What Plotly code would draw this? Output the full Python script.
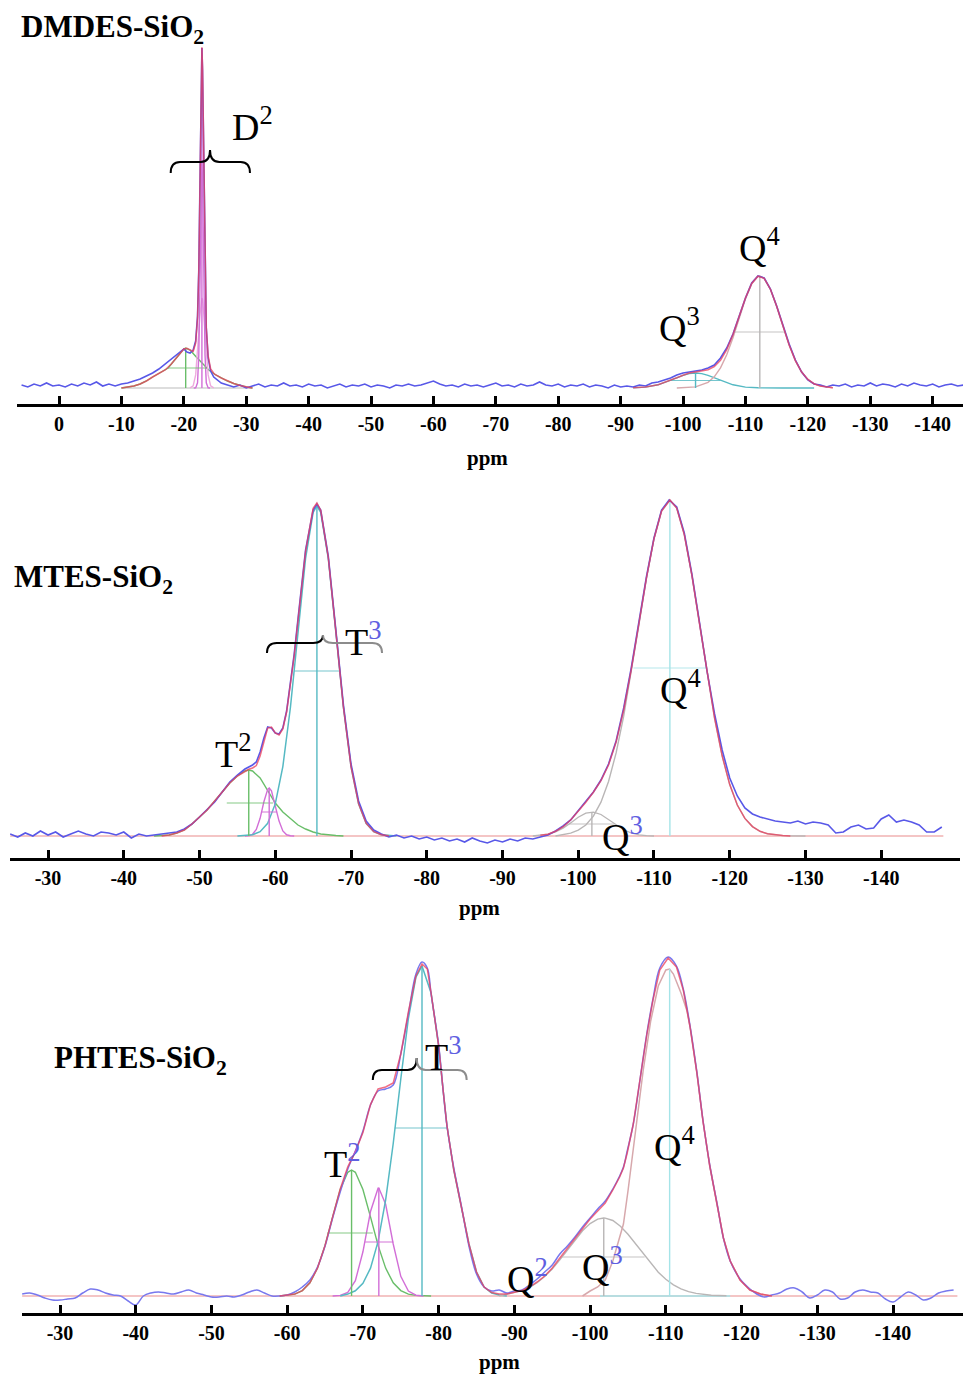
import plotly.graph_objects as go

# Page body margin of the browser shifts the figure by 8 px; layout below uses reference pixels.
OFF = 8
W, H = 971 - OFF, 1376 - OFF

# ================= DATA =================
# ---- Panel 1: DMDES-SiO2 (intensity in arbitrary units, baseline = 0) ----
dmdes_exp_ppm_a = [6, 5, 4, 3, 2, 1, 0, -1, -2, -3, -4, -5, -6, -7, -8, -9, -10, -11, -12, -13,
                   -14, -15, -16, -17, -18, -19, -19.5, -20, -20.5, -21, -21.5, -21.9, -22.2, -22.4,
                   -22.55, -22.7, -22.8, -22.9, -23.0, -23.1, -23.25, -23.4, -23.6, -23.9, -24.3,
                   -24.8, -25.5, -26, -27]
dmdes_exp_a = [3, 1, 4, 2, 5, 2, 3, 1, 4, 2, 5, 3, 6, 2, 4, 2, 4, 5, 7, 9,
               12, 15, 19, 24, 29, 34, 37, 39, 36, 35, 38, 47, 72, 118,
               186, 272, 320, 340, 318, 268, 180, 110, 60, 30, 17,
               11, 7, 5, 3]
dmdes_exp_ppm_b = list(range(-28, -94, -1))
dmdes_exp_b = [1, 3, 0, 2, 4, 1, 3, 2, 5, 2,
               3, 1, 4, 2, 3, 0, 2, 4, 1, 3,
               2, 4, 1, 3, 2, 0, 3, 2, 4, 2,
               3, 5, 7, 4, 2, 3, 1, 4, 2, 3,
               1, 3, 5, 2, 3, 1, 4, 2, 3, 6,
               3, 2, 4, 1, 3, 2, 4, 1, 3, 2,
               0, 3, 1, 2, 1, 3]
dmdes_exp_ppm_c = list(range(-94, -146, -1))
dmdes_exp_c = [2, 5, 6, 8, 10, 13, 15, 16, 17, 18,
               20, 23, 30, 40, 54, 72, 90, 105, 112, 110,
               99, 82, 62, 44, 28, 16, 8, 4, 3, 1,
               3, 2, 4, 1, 3, 2, 5, 2, 4, 3,
               1, 4, 2, 5, 3, 2, 4, 1, 3, 4,
               2, 3]

dmdes_fit_ppm = [-10, -11, -12, -13, -14, -15, -16, -17, -18, -19, -20, -20.5, -21, -21.5,
                 -21.9, -22.2, -22.4, -22.55, -22.7, -22.8, -22.9, -23.0, -23.1, -23.25, -23.4,
                 -23.6, -23.9, -24.3, -24.8, -25, -26, -27, -28, -29, -30, -31, None,
                 -92, -94, -96, -98, -99, -100, -101, -102, -103, -104, -105, -106, -107, -108,
                 -109, -110, -111, -112, -113, -114, -115, -116, -117, -118, -119, -120, -121,
                 -122, -124]
dmdes_fit = [0, 1, 2, 4, 7, 11, 14.5, 18, 24, 32, 39, 39.7, 38.1, 36.6,
             45, 69.8, 116.8, 186, 275.5, 323, 340.7, 321.6, 272.7, 181.2, 109.8,
             60.5, 32.2, 19.1, 14.8, 13.5, 10, 7, 4.5, 2.5, 1, 0, None,
             0.2, 0.9, 3.2, 7.5, 10.2, 12.8, 14.9, 16.1, 17.0, 18.3, 21.3, 27.6, 38.4, 53.5,
             71.8, 90.0, 104.5, 111.8, 109.6, 98.8, 81.7, 62.0, 43.0, 27.4, 16.0, 8.6, 4.2,
             1.9, 0.3]

dmdes_d_broad_ppm = [-10, -11, -12, -13, -14, -15, -16, -17, -17.5, -18, -19, -20, -20.3, -21, -22,
                     -23, -23.7, -24, -25, -26, -27, -28, -29, -30, -31]
dmdes_d_broad = [0, 1, 2, 4, 7, 11, 14.5, 18, 20, 24, 32, 39, 40, 38, 31,
                 24, 20, 18, 13.5, 10, 7, 4.5, 2.5, 1, 0]
dmdes_d_narrow_ppm = [-21.6, -21.9, -22.2, -22.4, -22.55, -22.7, -22.8, -22.9, -23.0, -23.1, -23.25,
                      -23.4, -23.6, -23.9, -24.2]
dmdes_d_narrow = [0, 0.1, 5.2, 33, 87.9, 166.1, 209.3, 226, 209.3, 166.1, 87.9, 33, 5.2, 0.1, 0]
dmdes_d_mid_ppm = [-21.0, -21.5, -21.9, -22.2, -22.4, -22.55, -22.7, -22.8, -22.9, -23.0, -23.1,
                   -23.25, -23.4, -23.6, -23.9, -24.3, -24.8]
dmdes_d_mid = [0.1, 2.1, 13.1, 35, 55.6, 71, 83.3, 88.3, 90, 88.3, 83.3, 71, 55.6, 35, 13.1, 2.1, 0.1]
dmdes_q3_ppm = [-92, -94, -96, -98, -99, -100, -101, -102, -103, -104, -105, -106, -108, -110, -112,
                -116, -121]
dmdes_q3 = [0.2, 0.9, 3.2, 7.5, 10.2, 12.6, 14.4, 15, 14.4, 12.6, 10.2, 7.5, 3.2, 0.9, 0.2, 0, 0]
dmdes_q4_ppm = [-99, -100, -102, -104, -105, -106, -107, -108, -109, -110, -111, -112, -112.3, -113,
                -114, -115, -116, -117, -118, -119, -120, -121, -122, -124]
dmdes_q4 = [0, 0.2, 1.1, 5.7, 11.1, 20.1, 33.2, 50.3, 69.9, 89.1, 104.1, 111.6, 112, 109.6,
            98.8, 81.7, 62, 43, 27.4, 16, 8.6, 4.2, 1.9, 0.3]
dmdes_base_ppm = [-10, -31]
dmdes_peak_ppm = [-20.3, -22.9, -102.0, -112.3]
dmdes_peak_h = [40, 340, 15, 112]
dmdes_half_y = [20, None, 7.5, 56]
dmdes_half_lo = [-17.5, None, -98.0, -108.3]
dmdes_half_hi = [-23.7, None, -106.0, -116.3]
dmdes_ticks = [0, -10, -20, -30, -40, -50, -60, -70, -80, -90, -100, -110, -120, -130, -140]
dmdes_ticktext = ["0", "-10", "-20", "-30", "-40", "-50", "-60", "-70", "-80", "-90", "-100",
                  "-110", "-120", "-130", "-140"]

# ---- Panel 2: MTES-SiO2 ----
mtes_exp_ppm_a = list(range(-25, -56, -1))
mtes_exp_a = [2, -1, 3, 0, 5, 1, 4, -1, 2, 5,
              2, 0, 4, 3, 1, 4, -2, 2, 0, 1,
              2, 3, 4, 7, 12, 19, 26, 34, 44, 54,
              61]
mtes_exp_ppm_b = [-56, -56.5, -57, -57.5, -58, -58.5, -59, -59.5, -60, -60.5, -61, -61.5, -62,
                  -62.5, -63, -64, -65, -65.5, -66]
mtes_exp_b = [67, 69, 71, 74, 84, 98, 109, 108, 103, 102, 108, 125, 152, 182, 217, 286, 326, 332, 326]
mtes_exp_ppm_c = list(range(-67, -149, -1))
mtes_exp_c = [280, 206, 131, 72, 35, 15, 6, 2, -1, 1,
              -2, 0, -3, -1, -4, -2, -5, -3, -6, -2,
              -5, -7, -4, -6, -3, -5, -2, -3, -1, 1,
              5, 10, 16, 25, 34, 44, 56, 72, 95, 128,
              168, 214, 259, 298, 326, 336, 329, 303, 262, 214,
              165, 122, 86, 58, 40, 28, 22, 19, 17, 15,
              14, 13, 15, 12, 14, 13, 11, 3, 4, 9,
              11, 7, 8, 17, 21, 14, 16, 14, 11, 4,
              4, 9]
mtes_fit_ppm = [-45, -46, -47, -48, -49, -50, -51, -52, -53, -54, -55, -56, -56.5, -57, -57.5, -58,
                -58.5, -59, -59.5, -60, -60.5, -61, -61.5, -62, -62.5, -63, -64, -65, -65.5, -66,
                -67, -68, -69, -70, -71, -72, -73, -74, -75, None,
                -95, -96, -97, -98, -99, -100, -101, -102, -103, -104, -105, -106, -107, -108,
                -109, -110, -111, -112.1, -113, -114, -115, -116, -117, -118, -119, -120, -121,
                -122, -123, -124, -125, -126, -127, -128]
mtes_fit = [0, 1, 3, 6, 12, 19, 26, 35, 44, 53, 60, 65, 66.7, 68, 70.4, 80,
            93.3, 108, 109, 103, 101, 107, 124, 150, 180, 215, 284.5, 327.7, 333, 325.7,
            278.5, 204.4, 128.5, 69.4, 32.1, 12.7, 4.3, 1.3, 0.3, None,
            0.7, 1.8, 4.7, 9.3, 16, 24.5, 33.8, 43.8, 55.3, 71, 94, 126, 166.4, 212,
            257.8, 297.3, 324.9, 336, 327.9, 301.4, 260.9, 212.6, 163.2, 117.9, 80.2, 51.4, 31,
            17.6, 9.4, 4.7, 2.2, 1.0, 0.4, 0.1]
mtes_t2_ppm = [-44, -45, -46, -47, -48, -49, -50, -51, -52, -53, -54, -55, -56, -56.5, -57, -58,
               -59, -60, -61, -62, -63, -64, -65, -66, -67, -68, -69]
mtes_t2 = [0, 0.5, 1, 3, 6, 12, 19, 26, 35, 44, 53, 60, 65, 66, 65, 58,
           45, 33, 24, 17, 11, 7, 4, 2, 1, 0.5, 0]
mtes_t2b_ppm = [-56, -56.6, -57, -57.5, -58, -58.5, -59, -59.2, -59.5, -60, -60.5, -61, -61.5, -62,
                -62.5]
mtes_t2b = [0, 0.4, 1.7, 6.5, 17.7, 34.2, 46.7, 48, 45.1, 30.8, 14.9, 5.1, 1.2, 0.2, 0]
mtes_t3_ppm = [-55, -57, -58, -59, -60, -61, -62, -63, -64, -65, -65.5, -66, -67, -68, -69, -70,
               -71, -72, -73, -74, -75, -76]
mtes_t3 = [0, 1.3, 4.3, 12.7, 32.1, 69.4, 128.5, 203.9, 277.5, 323.7, 330, 323.7, 277.5, 203.9,
           128.5, 69.4, 32.1, 12.7, 4.3, 1.3, 0.3, 0]
mtes_q3_ppm = [-94, -95, -96, -97, -98, -99, -100, -101, -101.8, -102, -103, -104, -105, -106, -107,
               -108, -109, -110]
mtes_q3 = [0, 0.7, 1.8, 4.1, 7.9, 13.1, 18.7, 22.8, 24, 23.9, 21.5, 16.5, 10.9, 6.2, 3.0, 1.2, 0.4, 0]
mtes_q4_ppm = [-97, -98, -99, -100, -101, -102, -103, -104, -105, -106, -107, -108, -109, -110, -111,
               -112.1, -113, -114, -115, -116, -117, -118, -119, -120, -121, -122, -123, -124,
               -125, -126, -127, -128, -130]
mtes_q4 = [0, 1.4, 2.9, 5.8, 11, 19.9, 33.8, 54.5, 83.1, 119.8, 163.4, 210.8, 257.4, 297.3, 324.9,
           336, 327.9, 301.4, 260.9, 212.6, 163.2, 117.9, 80.2, 51.4, 31, 17.6, 9.4, 4.7,
           2.2, 1.0, 0.4, 0.1, 0]
mtes_base_ppm = [-25, -148.2]
mtes_peak_ppm = [-56.5, -59.2, -65.5, -101.8, -112.1]
mtes_peak_h = [66, 48, 330, 24, 336]
mtes_half_y = [33, 24, 165, 12, 168]
mtes_half_lo = [-53.6, -58.2, -62.5, -98.8, -107.3]
mtes_half_hi = [-59.7, -60.2, -68.5, -104.8, -116.9]
mtes_ticks = [-30, -40, -50, -60, -70, -80, -90, -100, -110, -120, -130, -140]
mtes_ticktext = ["-30", "-40", "-50", "-60", "-70", "-80", "-90", "-100", "-110", "-120", "-130",
                 "-140"]

# ---- Panel 3: PHTES-SiO2 ----
phtes_exp_ppm_a = list(range(-25, -78, -1))
phtes_exp_a = [2, 3, 1, -2, -4, -4, -3, -2, 3, 7,
               6, 3, 1, 0, -5, -9, 0, 3, 4, 3,
               2, 4, 6, 3, 1, -1, -1, 0, -1, 1,
               4, 6, 3, 0, 0, 1, 4, 9, 16, 29,
               50, 78, 104, 127, 145, 165, 191, 205, 207, 211,
               242, 282, 322]
phtes_exp_ppm_b = [-77.8, -78.5, -79, -80, -80.6, -81.1, -82, -83, -84, -85, -86, -87, -88, -89,
                   -90, -91, -92, -93, -94, -95, -96, -97, -98, -99, -100, -101, -102, -103,
                   -103.9, -104.4, -104.9, -105.7, -106.6, -107.5, -108.3, -109.2, -110.3, -111.4,
                   -112.3, -113.2, -114.1, -114.9, -115.8, -116.8, -117.6, -118.5, -119.8, -121.1,
                   -122]
phtes_exp_b = [334, 328, 302, 251, 205, 170, 128, 90, 50, 22, 9, 5, 6, 3,
               5, 6, 11, 17, 24, 31, 42, 50, 59, 69, 78, 87, 95, 107,
               120, 129, 145, 172, 217, 263, 297, 328, 339, 330,
               307, 270, 224, 176, 131, 91, 58, 35, 17, 7,
               2]
phtes_exp_ppm_c = list(range(-123, -149, -1))
phtes_exp_c = [-1, 1, 3, 7, 8, 4, -2, 1, 6, 4,
               -3, -2, 4, 6, 4, 3, -3, -6, -1, 4,
               1, -4, -2, 3, 5, 6]
phtes_fit_ppm = [-59, -60, -61, -62, -63, -64, -65, -66, -67, -68, -69, -70, -71, -72, -73, -74,
                 -75, -76, -77, -77.8, -78.5, -79, -80, -80.6, -81.1, -82, -83, -84, -85, -86,
                 -87, -88, -89, -90, -91, -92, -93, -94, -95, -96, -97, -98, -99, -100, -101,
                 -102, -103, -103.9, -104.4, -104.9, -105.7, -106.6, -107.5, -108.3, -109.2,
                 -110.3, -111.4, -112.3, -113.2, -114.1, -114.9, -115.8, -116.8, -117.6, -118.5,
                 -119.8, -121.1, -122.5, -124]
phtes_fit = [0, 0.6, 1.9, 5.4, 13.2, 27.9, 50.6, 79.1, 107.1, 129.2, 144.3, 163.4, 191.4, 207, 209,
             213, 242, 284, 320, 332, 327, 303, 250, 205, 170, 126, 89, 52, 24, 9,
             3.5, 2, 2, 3.5, 5.5, 9, 14, 20, 28, 38, 48, 58, 68, 77, 85,
             93, 106, 119, 128, 143, 172, 216, 262, 296, 326,
             338, 329, 306, 269, 223, 175, 130, 90, 58, 35,
             16, 6, 2, 0]
phtes_t2_ppm = [-59, -60, -61, -62, -63, -64, -65, -66, -67, -68, -68.5, -69, -70, -71, -72, -73,
                -74, -75, -76, -77, -78, -79]
phtes_t2 = [0, 0.6, 1.9, 5.4, 13.2, 27.9, 50.6, 79.1, 106.5, 123.7, 126, 123.7, 106.5, 79.1, 50.6,
            27.9, 13.2, 5.4, 1.9, 0.6, 0.1, 0]
phtes_t2b_ppm = [-66, -67, -68, -69, -70, -71, -72, -72.1, -73, -74, -75, -76, -77, -78]
phtes_t2b = [0, 0.6, 3.6, 15.4, 44.2, 84.5, 107.8, 108, 91.7, 52, 19.7, 5, 0.8, 0]
phtes_t3_ppm = [-67, -68, -69, -70, -71, -72, -73, -74, -75, -76, -77, -77.8, -79, -80, -80.6, -81.1,
                -82, -83, -84, -85, -86, -87, -88, -89]
phtes_t3 = [0, 1.9, 5.2, 12.7, 27.8, 54.6, 96.2, 152.5, 217, 277.5, 318.9, 330, 303, 250, 205, 170,
            126, 89, 52, 24, 9, 3, 1, 0]
phtes_q3_ppm = [-88, -90, -91, -92, -93, -94, -95, -96, -97, -98, -99, -100, -101, -101.8, -102,
                -103, -104, -105, -106, -107, -108, -109, -110, -111, -112, -113, -114, -116, -118]
phtes_q3 = [0, 3.2, 5.4, 8.6, 13.2, 19.4, 27, 36.1, 46, 56, 65.2, 72.4, 76.9, 78, 77.9,
            75.5, 69.8, 61.7, 52.1, 42, 32.3, 23.8, 16.7, 11.2, 7.2, 4.4, 2.6, 0.8, 0.2]
phtes_q4_ppm = [-99, -100, -101, -102, -103, -104, -104.4, -105, -105.7, -106, -107, -108, -109, -110,
                -110.5, -111, -112, -112.8, -113.2, -114.1, -114.9, -115.8, -116.8, -117.6, -118.5,
                -119.8, -121.1, -122.5, -124]
phtes_q4 = [0, 5, 9, 16, 35, 62, 72, 105, 146, 165, 225, 275, 310, 326,
            327, 322, 303, 285, 269, 223, 175, 130, 90, 58, 35,
            16, 6, 2, 0]
phtes_base_ppm = [-25, -148.5]
phtes_cyan_base_ppm = [-101.3, -118.5]
phtes_peak_ppm = [-68.5, -72.1, -77.8, -101.8, -110.5]
phtes_peak_h = [126, 108, 330, 78, 327]
phtes_half_y = [63, 54, 168, 39, None]
phtes_half_lo = [-65.3, -70.3, -74.2, -96.3, None]
phtes_half_hi = [-71.3, -74.0, -81.1, -107.2, None]
phtes_ticks = [-30, -40, -50, -60, -70, -80, -90, -100, -110, -120, -130, -140]
phtes_ticktext = ["-30", "-40", "-50", "-60", "-70", "-80", "-90", "-100", "-110", "-120", "-130",
                  "-140"]

# ================= STYLE =================
BLUE = "rgb(88,88,232)"
RED = "rgb(236,62,92)"
GREEN = "rgb(105,190,105)"
MAGENTA = "rgb(210,110,215)"
LPINK = "rgb(238,170,222)"
TEAL = "rgb(85,185,195)"
GREY = "rgb(185,182,182)"
PINKGREY = "rgb(215,168,172)"
CYAN = "rgb(165,228,232)"
BASEPINK = "rgb(240,178,178)"
SUPBLUE = "rgb(95,95,225)"
SERIF = "Liberation Serif"

fig = go.Figure()


def line(x, y, color, width, ax, dash=None, shape="linear", opacity=1.0):
    fig.add_trace(go.Scatter(
        x=x, y=y, mode="lines", xaxis="x" + ax, yaxis="y" + ax,
        line=dict(color=color, width=width, dash=dash, shape=shape),
        opacity=opacity, hoverinfo="skip", showlegend=False))


def marks(cs, hs, hy, lo, hi, colors, ax):
    for c, h, yy, a, b, col in zip(cs, hs, hy, lo, hi, colors):
        line([c, c], [0, h], col, 1.4, ax)
        if a is not None:
            line([a, b], [yy, yy], col, 1.2, ax, opacity=0.8)


# ---- panel 1 ----
ax = "1"
line(dmdes_base_ppm, [0, 0], "rgb(210,210,210)", 1.4, ax)
line(dmdes_d_broad_ppm, dmdes_d_broad, GREEN, 1.4, ax)
line(dmdes_d_mid_ppm, dmdes_d_mid, LPINK, 1.4, ax)
line(dmdes_d_narrow_ppm, dmdes_d_narrow, MAGENTA, 1.4, ax)
line(dmdes_q3_ppm, dmdes_q3, TEAL, 1.4, ax)
line(dmdes_q4_ppm, dmdes_q4, PINKGREY, 1.4, ax)
marks(dmdes_peak_ppm, dmdes_peak_h, dmdes_half_y, dmdes_half_lo, dmdes_half_hi,
      [GREEN, MAGENTA, TEAL, GREY], ax)
line(dmdes_exp_ppm_a + dmdes_exp_ppm_b + dmdes_exp_ppm_c,
     dmdes_exp_a + dmdes_exp_b + dmdes_exp_c, BLUE, 1.6, ax)
line(dmdes_fit_ppm, dmdes_fit, RED, 1.5, ax, opacity=0.75)

# ---- panel 2 ----
ax = "2"
line(mtes_base_ppm, [0, 0], BASEPINK, 1.6, ax)
line(mtes_t2_ppm, mtes_t2, GREEN, 1.4, ax)
line(mtes_t2b_ppm, mtes_t2b, MAGENTA, 1.4, ax)
line(mtes_t3_ppm, mtes_t3, TEAL, 1.5, ax)
line(mtes_q3_ppm, mtes_q3, GREY, 1.3, ax)
line(mtes_q4_ppm, mtes_q4, GREY, 1.4, ax)
marks(mtes_peak_ppm, mtes_peak_h, mtes_half_y, mtes_half_lo, mtes_half_hi,
      [GREEN, MAGENTA, TEAL, GREY, CYAN], ax)
line(mtes_exp_ppm_a + mtes_exp_ppm_b + mtes_exp_ppm_c,
     mtes_exp_a + mtes_exp_b + mtes_exp_c, BLUE, 1.6, ax)
line(mtes_fit_ppm, mtes_fit, RED, 1.5, ax, opacity=0.75)

# ---- panel 3 ----
ax = "3"
line(phtes_base_ppm, [0, 0], BASEPINK, 1.6, ax)
line(phtes_cyan_base_ppm, [0, 0], CYAN, 1.6, ax)
line(phtes_t2_ppm, phtes_t2, GREEN, 1.4, ax)
line(phtes_t2b_ppm, phtes_t2b, MAGENTA, 1.4, ax)
line(phtes_t3_ppm, phtes_t3, TEAL, 1.5, ax)
line(phtes_q3_ppm, phtes_q3, GREY, 1.4, ax)
line(phtes_q4_ppm, phtes_q4, PINKGREY, 1.5, ax)
marks(phtes_peak_ppm, phtes_peak_h, phtes_half_y, phtes_half_lo, phtes_half_hi,
      [GREEN, MAGENTA, TEAL, GREY, CYAN], ax)
line(phtes_exp_ppm_a + phtes_exp_ppm_b + phtes_exp_ppm_c,
     phtes_exp_a + phtes_exp_b + phtes_exp_c, "rgb(120,120,238)", 1.5, ax, shape="spline")
line(phtes_fit_ppm, phtes_fit, RED, 1.5, ax, opacity=0.75)

# ================= AXES =================


def px(x):
    return (x - OFF) / W


def py(y):
    return 1 - (y - OFF) / H


def xaxis(dom, rng, ticks, text, anchor):
    return dict(domain=[px(dom[0]), px(dom[1])], range=rng, anchor=anchor,
                showline=True, linewidth=3, linecolor="black", showgrid=False, zeroline=False,
                ticks="inside", ticklen=8, tickwidth=3, tickcolor="black",
                tickmode="array", tickvals=ticks, ticktext=text, ticklabelstandoff=0,
                tickfont=dict(family=SERIF, size=20, color="black", weight="bold"))


def yaxis(dom, rng, anchor):
    return dict(domain=[py(dom[0]), py(dom[1])], range=rng, anchor=anchor, visible=False,
                showgrid=False, zeroline=False)


fig.update_layout(
    width=W, height=H, margin=dict(l=0, r=0, t=0, b=0),
    paper_bgcolor="white", plot_bgcolor="rgba(0,0,0,0)", showlegend=False,
    xaxis=xaxis((17, 967), [6.73, -145.5], dmdes_ticks, dmdes_ticktext, "y"),
    yaxis=yaxis((404, 40), [-16, 348], "x"),
    xaxis2=xaxis((10, 960), [-24.98, -150.4], mtes_ticks, mtes_ticktext, "y2"),
    yaxis2=yaxis((858, 490), [-22, 346], "x2"),
    xaxis3=xaxis((22, 968), [-24.98, -149.9], phtes_ticks, phtes_ticktext, "y3"),
    yaxis3=yaxis((1313, 950), [-17, 346], "x3"),
)

# ================= TEXT =================
ann = []


def title(txt, x, y, size=31):
    ann.append(dict(text=txt, x=px(x), y=py(y), xref="paper", yref="paper", xanchor="left",
                    yanchor="middle", showarrow=False,
                    font=dict(family=SERIF, size=size, color="black")))


title("<b>DMDES-SiO<sub>2</sub></b>", 19, 29)
title("<b>MTES-SiO<sub>2</sub></b>", 12, 579)
title("<b>PHTES-SiO<sub>2</sub></b>", 52, 1060)

for x, y in [(487, 458), (479, 908), (500, 1362)]:
    ann.append(dict(text="<b>ppm</b>", x=px(x), y=py(y), xref="paper", yref="paper",
                    xanchor="center", yanchor="middle", showarrow=False,
                    font=dict(family=SERIF, size=21, color="black")))


def sup(s, blue=False):
    if blue:
        return "<sup><span style='color:%s'>%s</span></sup>" % (SUPBLUE, s)
    return "<sup>%s</sup>" % s


def label(letter, s, x, y, ax, blue=False):
    ann.append(dict(text=letter + sup(s, blue), x=x, y=y, xref="x" + ax, yref="y" + ax,
                    xanchor="left", yanchor="middle", showarrow=False,
                    font=dict(family=SERIF, size=38, color="black")))


label("D", "2", -27.4, 264, "1")
label("Q", "4", -108.6, 143, "1")
label("Q", "3", -95.9, 63, "1")
label("T", "3", -68.95, 197, "2", blue=True)
label("T", "2", -51.8, 85, "2")
label("Q", "4", -110.5, 149, "2")
label("Q", "3", -102.9, 2, "2", blue=True)
label("T", "3", -77.9, 242, "3", blue=True)
label("T", "2", -64.6, 135, "3", blue=True)
label("Q", "2", -88.8, 20, "3", blue=True)
label("Q", "3", -98.7, 32, "3", blue=True)
label("Q", "4", -108.2, 152, "3")
fig.update_layout(annotations=ann)

# ---- curly braces above the T / D groups ----
braces = [  # x_left, x_right, x_cusp, y, drop, tip, curl, ax, right-half colour
    (-17.9, -30.6, -24.2, 226, 11, 12, 1.5, "", "black"),
    (-58.9, -74.1, -66.3, 193, 10, 8, 1.3, "2", "rgb(140,140,140)"),
    (-71.3, -83.7, -77.1, 226, 10, 12, 1.2, "3", "rgb(140,140,140)"),
]
shapes = []
for x0, x1, xc, y, d, t, r, a, rc in braces:
    left = "M %g,%g Q %g,%g %g,%g L %g,%g Q %g,%g %g,%g" % (
        x0, y - d, x0, y, x0 - r, y, xc + r, y, xc, y, xc, y + t)
    right = "M %g,%g Q %g,%g %g,%g L %g,%g Q %g,%g %g,%g" % (
        xc, y + t, xc, y, xc - r, y, x1 + r, y, x1, y, x1, y - d)
    shapes.append(dict(type="path", path=left, xref="x" + a, yref="y" + a,
                       line=dict(color="black", width=2)))
    shapes.append(dict(type="path", path=right, xref="x" + a, yref="y" + a,
                       line=dict(color=rc, width=2)))
fig.update_layout(shapes=shapes)

fig.write_html("out.html")
